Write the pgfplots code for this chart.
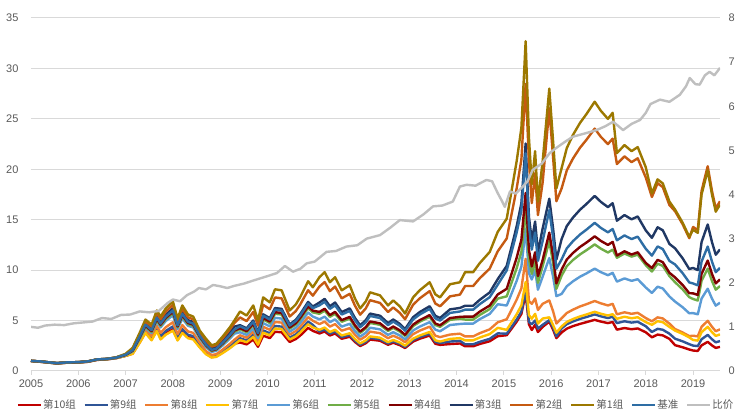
\documentclass[border=0pt]{standalone}
\usepackage{pgfplots}
\pgfplotsset{compat=1.18}
\usepackage{pgfplotstable}
\usepackage{fontspec}
\setmainfont{Liberation Sans}
\newfontfamily\cjk{Noto Sans CJK SC}

\definecolor{cA}{HTML}{C00000} % 第10组
\definecolor{cB}{HTML}{2F5597} % 第9组
\definecolor{cC}{HTML}{ED7D31} % 第8组
\definecolor{cD}{HTML}{FFC000} % 第7组
\definecolor{cE}{HTML}{5B9BD5} % 第6组
\definecolor{cF}{HTML}{70AD47} % 第5组
\definecolor{cG}{HTML}{800000} % 第4组
\definecolor{cH}{HTML}{203864} % 第3组
\definecolor{cI}{HTML}{C55A11} % 第2组
\definecolor{cJ}{HTML}{9C7800} % 第1组
\definecolor{cK}{HTML}{2E6DA4} % 基准
\definecolor{cL}{HTML}{BFBFBF} % 比价
\definecolor{gridc}{HTML}{D9D9D9}
\definecolor{tickc}{HTML}{595959}

% group net values (left axis)
\pgfplotstableread{
t       g1    g2    g3    base  g4    g5    g6    g7    g8    g9    g10
2005.00 1.00  1.00  1.00  1.00  1.00  1.00  1.00  1.00  1.00  1.00  1.00
2005.20 0.95  0.95  0.95  0.95  0.94  0.94  0.93  0.92  0.93  0.92  0.91
2005.40 0.85  0.85  0.85  0.85  0.84  0.84  0.83  0.82  0.83  0.82  0.82
2005.55 0.78  0.78  0.78  0.78  0.77  0.77  0.76  0.76  0.76  0.76  0.75
2005.75 0.85  0.85  0.85  0.85  0.84  0.84  0.83  0.82  0.83  0.82  0.82
2006.00 0.88  0.88  0.88  0.88  0.87  0.87  0.86  0.85  0.86  0.85  0.84
2006.20 0.95  0.95  0.95  0.95  0.94  0.94  0.93  0.92  0.93  0.92  0.91
2006.40 1.15  1.15  1.15  1.15  1.14  1.14  1.13  1.12  1.13  1.12  1.10
2006.60 1.20  1.20  1.20  1.20  1.19  1.19  1.18  1.16  1.18  1.16  1.15
2006.80 1.35  1.34  1.33  1.33  1.32  1.32  1.30  1.28  1.30  1.28  1.27
2007.00 1.70  1.67  1.63  1.62  1.60  1.58  1.56  1.50  1.53  1.51  1.50
2007.15 2.30  2.21  2.12  2.07  2.02  1.98  1.93  1.70  1.84  1.77  1.73
2007.30 3.80  3.65  3.50  3.42  3.34  3.27  3.19  2.81  3.04  2.93  2.85
2007.42 5.10  4.90  4.69  4.59  4.49  4.39  4.28  3.77  4.08  3.93  3.83
2007.55 4.60  4.39  4.19  4.05  3.96  3.86  3.77  3.04  3.45  3.22  3.13
2007.66 6.00  5.73  5.46  5.28  5.16  5.04  4.92  3.96  4.50  4.20  4.08
2007.74 5.40  5.13  4.86  4.70  4.59  4.48  4.32  3.13  3.78  3.46  3.24
2007.85 6.20  5.89  5.58  5.39  5.27  5.15  4.96  3.60  4.34  3.97  3.72
2008.00 6.90  6.56  6.21  6.00  5.87  5.73  5.52  4.00  4.83  4.42  4.14
2008.10 5.20  4.94  4.68  4.52  4.42  4.32  4.16  3.02  3.64  3.33  3.12
2008.20 6.50  6.18  5.85  5.66  5.53  5.40  5.20  3.77  4.55  4.16  3.90
2008.32 5.60  5.32  5.04  4.87  4.76  4.65  4.48  3.25  3.92  3.58  3.36
2008.43 5.40  5.13  4.86  4.70  4.59  4.48  4.32  3.13  3.78  3.46  3.24
2008.57 4.00  3.80  3.60  3.48  3.40  3.32  3.20  2.32  2.80  2.56  2.40
2008.70 3.20  3.04  2.82  2.62  2.56  2.50  2.37  1.66  1.98  1.79  1.73
2008.82 2.55  2.42  2.24  2.09  2.04  1.99  1.89  1.33  1.58  1.43  1.38
2008.92 2.70  2.57  2.38  2.21  2.16  2.11  2.00  1.40  1.67  1.51  1.46
2009.05 3.40  3.23  2.99  2.79  2.72  2.65  2.52  1.77  2.11  1.90  1.84
2009.20 4.30  4.09  3.78  3.53  3.44  3.35  3.18  2.24  2.67  2.41  2.32
2009.30 5.00  4.75  4.40  4.10  4.00  3.90  3.70  2.60  3.10  2.80  2.70
2009.42 5.90  5.31  4.54  4.43  4.25  4.13  3.84  3.07  3.54  3.25  2.83
2009.56 5.50  4.95  4.24  4.13  3.96  3.85  3.58  2.86  3.30  3.03  2.64
2009.70 6.50  5.85  5.01  4.88  4.68  4.55  4.23  3.38  3.90  3.58  3.12
2009.80 5.00  4.50  3.85  3.75  3.60  3.50  3.25  2.60  3.00  2.75  2.40
2009.91 7.30  6.57  5.62  5.48  5.26  5.11  4.75  3.80  4.38  4.02  3.50
2010.05 6.80  6.12  5.24  5.10  4.90  4.76  4.42  3.54  4.08  3.74  3.26
2010.16 8.10  7.29  6.24  6.08  5.83  5.67  5.27  4.21  4.86  4.46  3.89
2010.30 8.00  7.20  6.16  6.00  5.76  5.60  5.20  4.16  4.80  4.40  3.84
2010.47 6.00  5.40  4.62  4.50  4.32  4.20  3.90  3.12  3.60  3.30  2.88
2010.60 6.60  5.94  5.08  4.95  4.75  4.62  4.29  3.43  3.96  3.63  3.17
2010.69 7.30  6.57  5.62  5.48  5.26  5.11  4.75  3.80  4.38  4.02  3.50
2010.86 8.90  8.01  6.85  6.68  6.41  6.23  5.79  4.63  5.34  4.90  4.27
2010.96 8.30  7.47  6.39  6.23  5.98  5.81  5.40  4.32  4.98  4.57  3.98
2011.10 9.30  8.37  6.79  6.51  5.86  5.67  5.12  4.09  4.65  3.91  3.72
2011.21 9.80  8.82  7.15  6.86  6.17  5.98  5.39  4.31  4.90  4.12  3.92
2011.32 8.80  7.92  6.42  6.16  5.54  5.37  4.84  3.87  4.40  3.70  3.52
2011.43 9.30  8.37  6.79  6.51  5.86  5.67  5.12  4.09  4.65  3.91  3.72
2011.57 8.00  7.20  5.84  5.60  5.04  4.88  4.40  3.52  4.00  3.36  3.20
2011.74 8.50  7.65  6.21  5.95  5.36  5.19  4.68  3.74  4.25  3.57  3.40
2011.85 7.20  6.48  5.26  5.04  4.54  4.39  3.96  3.17  3.60  3.02  2.88
2011.96 6.20  5.58  4.53  4.34  3.91  3.78  3.41  2.73  3.10  2.60  2.48
2012.08 6.90  6.21  5.04  4.83  4.35  4.21  3.80  3.04  3.45  2.90  2.76
2012.17 7.80  7.02  5.69  5.46  4.91  4.76  4.29  3.43  3.90  3.28  3.12
2012.38 7.50  6.75  5.48  5.25  4.73  4.58  4.13  3.30  3.75  3.15  3.00
2012.55 6.50  5.85  4.75  4.55  4.10  3.97  3.58  2.86  3.25  2.73  2.60
2012.66 7.00  6.30  5.11  4.90  4.41  4.27  3.85  3.08  3.50  2.94  2.80
2012.80 6.40  5.76  4.67  4.48  4.03  3.90  3.52  2.82  3.20  2.69  2.56
2012.91 5.70  5.13  4.16  3.99  3.59  3.48  3.14  2.51  2.85  2.39  2.28
2013.08 7.30  6.57  5.33  5.11  4.60  4.45  4.02  3.21  3.65  3.07  2.92
2013.22 8.00  7.20  5.84  5.60  5.04  4.88  4.40  3.52  4.00  3.36  3.20
2013.43 8.80  7.92  6.42  6.16  5.54  5.37  4.84  3.87  4.40  3.70  3.52
2013.55 7.60  6.69  5.47  5.21  4.71  4.56  4.10  3.04  3.50  2.89  2.70
2013.65 7.30  6.42  5.26  5.00  4.53  4.38  3.94  2.92  3.36  2.77  2.59
2013.86 8.60  7.40  6.11  5.76  5.25  5.07  4.56  3.18  3.61  2.92  2.67
2014.07 8.80  7.57  6.25  5.90  5.37  5.19  4.66  3.26  3.70  2.99  2.73
2014.18 9.80  8.43  6.47  6.08  5.39  5.10  4.70  3.04  3.43  2.65  2.45
2014.35 9.80  8.43  6.47  6.08  5.39  5.10  4.70  3.04  3.43  2.65  2.45
2014.49 10.70 9.20  7.06  6.63  5.89  5.56  5.14  3.32  3.75  2.89  2.68
2014.70 11.80 10.15 7.79  7.32  6.49  6.14  5.66  3.66  4.13  3.19  2.95
2014.87 13.80 11.87 9.11  8.56  7.59  7.18  6.62  4.28  4.83  3.73  3.45
2015.06 15.10 13.14 10.42 9.97  8.15  7.40  6.49  4.08  5.13  3.70  3.55
2015.16 17.80 15.49 12.28 11.75 9.61  8.72  7.65  4.81  6.05  4.36  4.18
2015.27 20.80 18.10 14.35 13.73 11.23 10.19 8.94  5.62  7.07  5.10  4.89
2015.37 24.10 20.97 16.63 15.91 13.01 11.81 10.36 6.51  8.19  5.90  5.66
2015.46 32.70 28.45 22.56 21.58 17.66 16.02 14.06 8.83  11.12 8.01  7.68
2015.53 23.10 20.79 15.25 14.32 12.01 11.09 9.70  5.54  6.93  4.85  4.62
2015.59 18.50 16.65 12.95 12.03 10.36 9.62  9.07  5.18  6.66  4.63  4.07
2015.66 21.80 19.62 14.82 13.73 11.77 10.90 10.03 5.67  7.19  5.01  4.58
2015.72 16.80 15.46 11.76 10.92 9.41  8.74  8.06  4.70  6.05  4.20  3.86
2015.82 20.80 18.72 14.14 12.90 11.02 10.40 9.36  5.20  6.66  4.58  4.37
2015.96 28.00 26.04 17.08 15.96 13.72 12.88 11.20 5.32  7.00  5.04  4.90
2016.04 22.80 21.20 14.14 13.22 11.40 10.72 9.35  4.56  5.93  4.33  4.10
2016.11 18.10 16.83 11.04 10.14 8.69  8.15  7.42  3.80  4.71  3.44  3.26
2016.22 20.10 18.09 13.07 11.06 10.05 9.45  7.64  4.42  5.23  4.22  3.82
2016.33 22.10 19.89 14.37 12.16 11.05 10.39 8.40  4.86  5.75  4.64  4.20
2016.46 23.40 21.06 15.21 12.87 11.70 11.00 8.89  5.15  6.08  4.91  4.45
2016.61 24.60 22.14 15.99 13.53 12.30 11.56 9.35  5.41  6.40  5.17  4.67
2016.75 25.50 22.95 16.58 14.03 12.75 11.99 9.69  5.61  6.63  5.36  4.85
2016.92 26.70 24.03 17.36 14.69 13.35 12.55 10.15 5.87  6.94  5.61  5.07
2017.05 25.80 23.22 16.77 14.19 12.90 12.13 9.80  5.68  6.71  5.42  4.90
2017.20 25.00 22.50 16.25 13.75 12.50 11.75 9.50  5.50  6.50  5.25  4.75
2017.30 25.60 23.04 16.64 14.08 12.80 12.03 9.73  5.63  6.66  5.38  4.86
2017.39 21.60 20.52 14.90 12.96 11.45 11.23 8.86  5.18  5.62  4.75  4.10
2017.55 22.40 21.28 15.46 13.44 11.87 11.65 9.18  5.38  5.82  4.93  4.26
2017.70 21.80 20.71 15.04 13.08 11.55 11.34 8.94  5.23  5.67  4.80  4.14
2017.83 22.20 21.09 15.32 13.32 11.77 11.54 9.10  5.33  5.77  4.88  4.22
2018.00 20.20 19.19 13.94 12.12 10.71 10.50 8.28  4.85  5.25  4.44  3.84
2018.13 17.60 17.25 13.20 11.44 10.21 9.86  7.74  4.58  4.93  3.87  3.34
2018.25 19.00 18.62 14.25 12.35 11.02 10.64 8.36  4.94  5.32  4.18  3.61
2018.36 18.60 18.23 13.95 12.09 10.79 10.42 8.18  4.84  5.21  4.09  3.53
2018.50 16.80 16.46 12.60 10.92 9.74  9.41  7.39  4.37  4.70  3.70  3.19
2018.62 16.00 15.84 12.16 10.56 9.28  8.80  6.88  4.00  4.16  3.20  2.56
2018.78 14.70 14.55 11.17 9.70  8.53  8.09  6.32  3.68  3.82  2.94  2.35
2018.92 13.30 13.17 10.11 8.78  7.71  7.32  5.72  3.33  3.46  2.66  2.13
2019.00 14.00 14.28 10.22 8.68  7.70  7.14  5.74  3.08  3.50  2.52  2.03
2019.10 13.70 13.97 10.00 8.49  7.54  6.99  5.62  3.01  3.43  2.47  1.99
2019.18 17.50 17.85 12.78 10.85 9.63  8.93  7.18  3.85  4.38  3.15  2.54
2019.31 19.90 20.30 14.53 12.34 10.95 10.15 8.16  4.38  4.98  3.58  2.89
2019.40 17.50 17.85 12.78 10.85 9.63  8.93  7.18  3.85  4.38  3.15  2.54
2019.48 15.80 16.12 11.53 9.80  8.69  8.06  6.48  3.48  3.95  2.84  2.29
2019.57 16.50 16.83 12.05 10.23 9.08  8.42  6.77  3.63  4.13  2.97  2.39
}\grp

% price ratio (right axis)
\pgfplotstableread{
t       v
2005.00 1.00
2005.15 0.98
2005.30 1.03
2005.50 1.05
2005.70 1.04
2005.90 1.08
2006.10 1.10
2006.30 1.12
2006.50 1.20
2006.70 1.18
2006.90 1.27
2007.10 1.28
2007.30 1.35
2007.50 1.33
2007.70 1.36
2007.90 1.55
2008.00 1.62
2008.15 1.58
2008.30 1.72
2008.45 1.80
2008.55 1.88
2008.70 1.85
2008.85 1.95
2009.00 1.92
2009.15 1.88
2009.30 1.93
2009.50 1.98
2009.70 2.05
2009.85 2.10
2010.00 2.15
2010.20 2.22
2010.37 2.38
2010.54 2.25
2010.70 2.32
2010.83 2.44
2011.00 2.48
2011.25 2.70
2011.45 2.72
2011.67 2.82
2011.90 2.85
2012.10 3.00
2012.38 3.08
2012.60 3.25
2012.80 3.42
2013.08 3.39
2013.30 3.55
2013.50 3.73
2013.70 3.75
2013.92 3.84
2014.07 4.18
2014.21 4.22
2014.40 4.20
2014.63 4.33
2014.75 4.30
2014.87 4.03
2014.96 3.85
2015.02 3.72
2015.13 4.07
2015.25 4.02
2015.40 4.18
2015.50 4.30
2015.61 4.56
2015.80 4.70
2015.97 4.94
2016.10 5.05
2016.30 5.20
2016.46 5.31
2016.70 5.38
2016.96 5.46
2017.15 5.55
2017.31 5.65
2017.52 5.46
2017.70 5.60
2017.88 5.69
2018.00 5.85
2018.10 6.05
2018.30 6.15
2018.50 6.10
2018.72 6.26
2018.85 6.45
2018.93 6.64
2019.05 6.50
2019.14 6.49
2019.25 6.70
2019.35 6.78
2019.45 6.70
2019.57 6.87
}\ratio

\pgfplotsset{
  common/.style={
    at={(31pt,43pt)}, anchor=south west,
    scale only axis, width=689pt, height=353pt,
    xmin=2005, xmax=2019.57,
    /pgf/number format/assume math mode=true,
    /pgf/number format/1000 sep={},
    ticklabel style={font=\fontsize{11}{13}\selectfont, text=tickc},
  },
  ln/.style={line width=2.4pt, line join=round},
}

\begin{document}
\begin{tikzpicture}
\useasboundingbox (0,0) rectangle (744pt,414pt);
\begin{axis}[common,
  ymin=0, ymax=35,
  xtick={2005,2006,...,2019}, ytick={0,5,...,35},
  axis x line*=bottom, axis y line*=left,
  x axis line style={draw=gridc, line width=1pt},
  y axis line style={draw=none},
  ymajorgrids, major grid style={draw=gridc, line width=1pt},
  tick align=outside, major tick length=4pt,
  xtick style={draw=gridc, line width=0.8pt},
  ytick style={draw=none},
  yticklabel style={xshift=-5pt},
  xticklabel style={yshift=-1pt},
  legend columns=12,
  legend style={at={(0.5,-0.096)}, anchor=center, draw=none, fill=none,
    font=\cjk\fontsize{10.5}{12}\selectfont, text=tickc,
    nodes={inner xsep=1pt, inner ysep=1pt},
    /tikz/every even column/.append style={column sep=6.5pt}},
  legend image code/.code={\draw[#1, line width=2.5pt] (0pt,0pt) -- (23pt,0pt);},
]
\addplot[cA, ln] table[x=t, y=g10]{\grp}; \addlegendentry{第10组}
\addplot[cB, ln] table[x=t, y=g9]{\grp};  \addlegendentry{第9组}
\addplot[cC, ln] table[x=t, y=g8]{\grp};  \addlegendentry{第8组}
\addplot[cD, ln] table[x=t, y=g7]{\grp};  \addlegendentry{第7组}
\addplot[cE, ln] table[x=t, y=g6]{\grp};  \addlegendentry{第6组}
\addplot[cF, ln] table[x=t, y=g5]{\grp};  \addlegendentry{第5组}
\addplot[cG, ln] table[x=t, y=g4]{\grp};  \addlegendentry{第4组}
\addplot[cH, ln] table[x=t, y=g3]{\grp};  \addlegendentry{第3组}
\addplot[cI, ln] table[x=t, y=g2]{\grp};  \addlegendentry{第2组}
\addplot[cJ, ln] table[x=t, y=g1]{\grp};  \addlegendentry{第1组}
\addplot[cK, ln] table[x=t, y=base]{\grp}; \addlegendentry{基准}
\addlegendimage{cL, ln} \addlegendentry{比价}
\end{axis}
\begin{axis}[common,
  ymin=0, ymax=8, ytick={0,1,...,8},
  axis x line=none, axis y line*=right,
  y axis line style={draw=none}, ytick style={draw=none},
  yticklabel style={xshift=5pt},
]
\addplot[cL, ln] table[x=t, y=v]{\ratio};
\end{axis}
\end{tikzpicture}
\end{document}
